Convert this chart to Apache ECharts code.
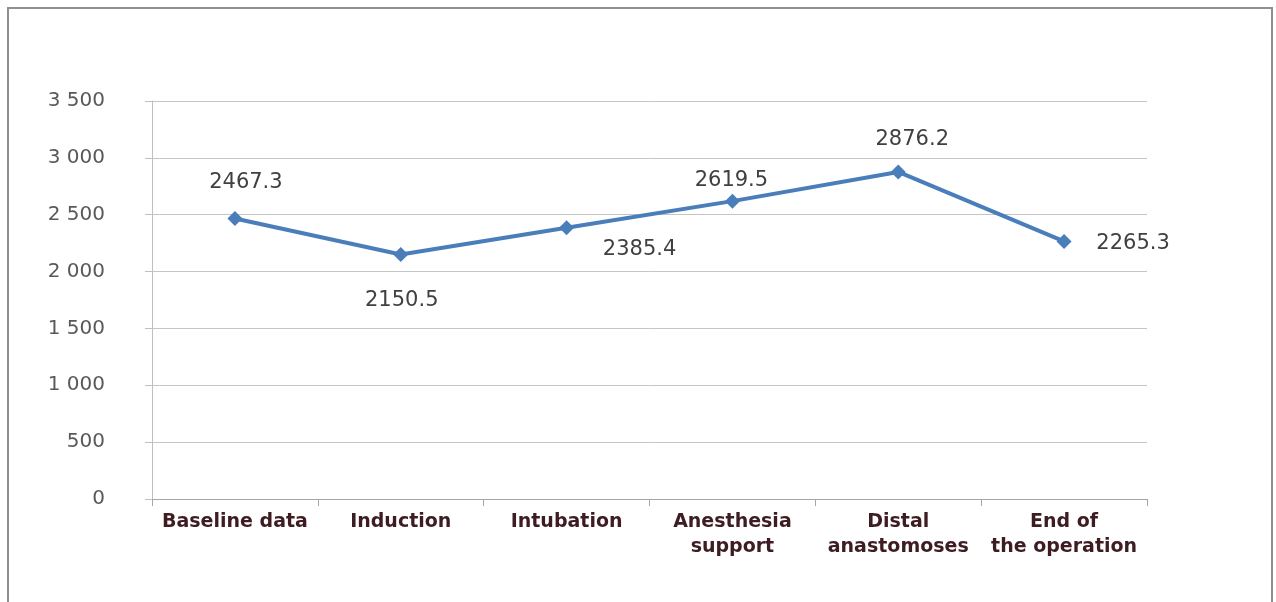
<!DOCTYPE html>
<html>
<head>
<meta charset="utf-8">
<script src="https://cdn.jsdelivr.net/npm/echarts@6/dist/echarts.min.js"></script>
<style>
html,body{margin:0;padding:0;background:#fff;}
#c{width:1276px;height:602px;}
</style>
</head>
<body>
<div id="c"></div>
<script>
const categories = ['Baseline data', 'Induction', 'Intubation', 'Anesthesia\nsupport', 'Distal\nanastomoses', 'End of\nthe operation'];
const values = [2467.3, 2150.5, 2385.4, 2619.5, 2876.2, 2265.3];
const labelOffsets = [[11, -36], [1, 46], [73, 22], [-1, -21], [14, -32], [69, 2]];

const chart = echarts.init(document.getElementById('c'));
chart.setOption({
  animation: false,
  backgroundColor: '#fff',
  graphic: [{
    type: 'rect',
    shape: {x: 8, y: 8, width: 1264, height: 610},
    style: {fill: 'none', stroke: '#8f8f8f', lineWidth: 2},
    silent: true
  }],
  grid: {left: 152, right: 129, top: 101, bottom: 103, containLabel: false},
  xAxis: {
    type: 'category',
    data: categories,
    boundaryGap: true,
    axisLine: {show: true, lineStyle: {color: '#a6a6a6', width: 1}},
    axisTick: {show: true, length: 7, lineStyle: {color: '#a6a6a6'}},
    axisLabel: {
      interval: 0, margin: 11,
      fontFamily: 'DejaVu Sans', fontSize: 19, fontWeight: 'bold',
      color: '#3d1c22', lineHeight: 25
    }
  },
  yAxis: {
    type: 'value',
    min: 0, max: 3500, interval: 500,
    axisLine: {show: true, lineStyle: {color: '#bfbfbf'}},
    axisTick: {show: true, length: 7, lineStyle: {color: '#bfbfbf'}},
    splitLine: {show: true, lineStyle: {color: '#c4c4c4', width: 1}},
    axisLabel: {
      margin: 47, fontFamily: 'DejaVu Sans', fontSize: 20, color: '#595959',
      formatter: v => v >= 1000 ? Math.floor(v / 1000) + ' ' + String(v % 1000).padStart(3, '0') : String(v)
    }
  },
  series: [{
    type: 'line',
    data: values.map((v, i) => ({
      value: v,
      label: {offset: labelOffsets[i]}
    })),
    symbol: 'diamond',
    symbolSize: 15,
    lineStyle: {color: '#4a7ebb', width: 4},
    itemStyle: {color: '#4a7ebb'},
    label: {
      show: true, position: 'inside',
      fontFamily: 'DejaVu Sans', fontSize: 21, color: '#404040',
      formatter: p => p.value.toFixed(1)
    }
  }]
});
</script>
</body>
</html>
